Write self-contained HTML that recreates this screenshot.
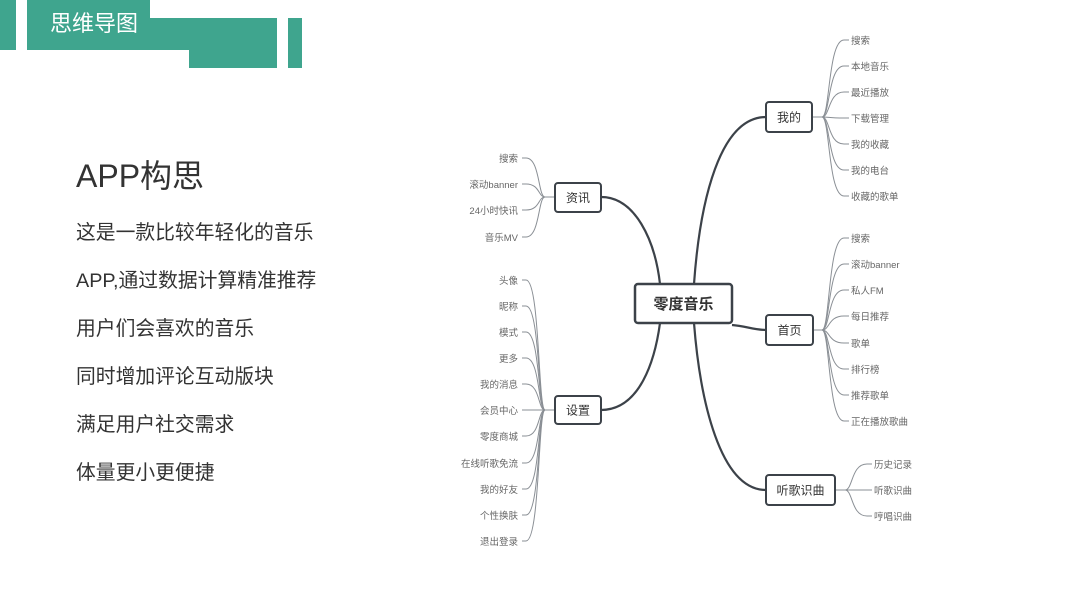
<!DOCTYPE html>
<html><head><meta charset="utf-8"><style>
html,body{margin:0;padding:0;background:#fff;width:1067px;height:600px;overflow:hidden;position:relative;font-family:"Liberation Sans","Noto Sans CJK SC",sans-serif}
.g{position:absolute;background:#3fa58e}
.t{position:absolute;left:76px;color:#333;font-size:19.8px;line-height:24px;white-space:nowrap}
svg{position:absolute;left:0;top:0}
</style></head><body>
<div class="g" style="left:0;top:0;width:16px;height:50px"></div>
<div class="g" style="left:27px;top:0;width:123px;height:50px"></div>
<div class="g" style="left:27px;top:18px;width:250px;height:32px"></div>
<div class="g" style="left:189px;top:18px;width:88px;height:50px"></div>
<div class="g" style="left:288px;top:18px;width:14px;height:50px"></div>
<div style="position:absolute;left:50px;top:11px;color:#fff;font-size:22px;line-height:26px">思维导图</div>
<div class="t" style="top:158px;font-size:32px;line-height:36px">APP构思</div>
<div class="t" style="top:221px">这是一款比较年轻化的音乐</div>
<div class="t" style="top:269px">APP,通过数据计算精准推荐</div>
<div class="t" style="top:317px">用户们会喜欢的音乐</div>
<div class="t" style="top:365px">同时增加评论互动版块</div>
<div class="t" style="top:413px">满足用户社交需求</div>
<div class="t" style="top:461px">体量更小更便捷</div>
<svg id="s" width="1067" height="600" xmlns="http://www.w3.org/2000/svg" font-family="Liberation Sans, Noto Sans CJK SC, sans-serif"></svg>
<script>
var s=document.getElementById('s'),h='';
function box(x,y,w,hh,t,fs,b){h+='<rect x="'+x+'" y="'+y+'" width="'+w+'" height="'+hh+'" rx="3" fill="#fff" stroke="#3c4249" stroke-width="'+(b?2.5:2)+'"/><text x="'+(x+w/2)+'" y="'+(y+hh/2+fs*0.36)+'" text-anchor="middle" font-size="'+fs+'" fill="#333"'+(b?' font-weight="bold"':'')+'>'+t+'</text>';}
function main(d){h+='<path d="'+d+'" fill="none" stroke="#3c4249" stroke-width="2.2"/>';}
function leaves(side,jx,ny,nx,list){
 list.forEach(function(it){var y=it[1],t=it[0];
  if(side<0){h+='<path d="M522 '+y+' L526 '+y+' C540 '+y+' 538 '+ny+' '+jx+' '+ny+'" fill="none" stroke="#8a8f95" stroke-width="1"/>';
   h+='<text x="518" y="'+(y+4)+'" text-anchor="end" font-size="9.5" fill="#666">'+t+'</text>';}
  else{var lx=jx+27;h+='<path d="M'+jx+' '+ny+' C'+(jx+8)+' '+ny+' '+(jx+6)+' '+y+' '+(lx-5)+' '+y+' L'+lx+' '+y+'" fill="none" stroke="#8a8f95" stroke-width="1"/>';
   h+='<text x="'+(lx+2)+'" y="'+(y+4)+'" font-size="9.5" fill="#666">'+t+'</text>';}
 });
 h+='<line x1="'+jx+'" y1="'+ny+'" x2="'+nx+'" y2="'+ny+'" stroke="#8a8f95" stroke-width="1"/>';
}
main('M601 197 C635 197 655 240 660 284');
main('M766 117 C720 117 700 200 694 284');
main('M732 325 C745 326 755 330 766 330');
main('M601 410 C640 410 655 360 660 323');
main('M766 490 C720 490 700 400 694 323');
leaves(-1,545,197,555,[['搜索',158],['滚动banner',184],['24小时快讯',210],['音乐MV',237]]);
leaves(-1,545,410,555,[['头像',280],['昵称',306],['模式',332],['更多',358],['我的消息',384],['会员中心',410],['零度商城',436],['在线听歌免流',463],['我的好友',489],['个性换肤',515],['退出登录',541]]);
leaves(1,822,117,812,[['搜索',40],['本地音乐',66],['最近播放',92],['下载管理',118],['我的收藏',144],['我的电台',170],['收藏的歌单',196]]);
leaves(1,822,330,812,[['搜索',238],['滚动banner',264],['私人FM',290],['每日推荐',316],['歌单',343],['排行榜',369],['推荐歌单',395],['正在播放歌曲',421]]);
leaves(1,845,490,835,[['历史记录',464],['听歌识曲',490],['哼唱识曲',516]]);
box(555,183,46,29,'资讯',12);
box(766,102,46,30,'我的',12);
box(766,315,47,30,'首页',12);
box(555,396,46,28,'设置',12);
box(766,475,69,30,'听歌识曲',12);
box(635,284,97,39,'零度音乐',15,true);
s.innerHTML=h;
</script>
</body></html>
